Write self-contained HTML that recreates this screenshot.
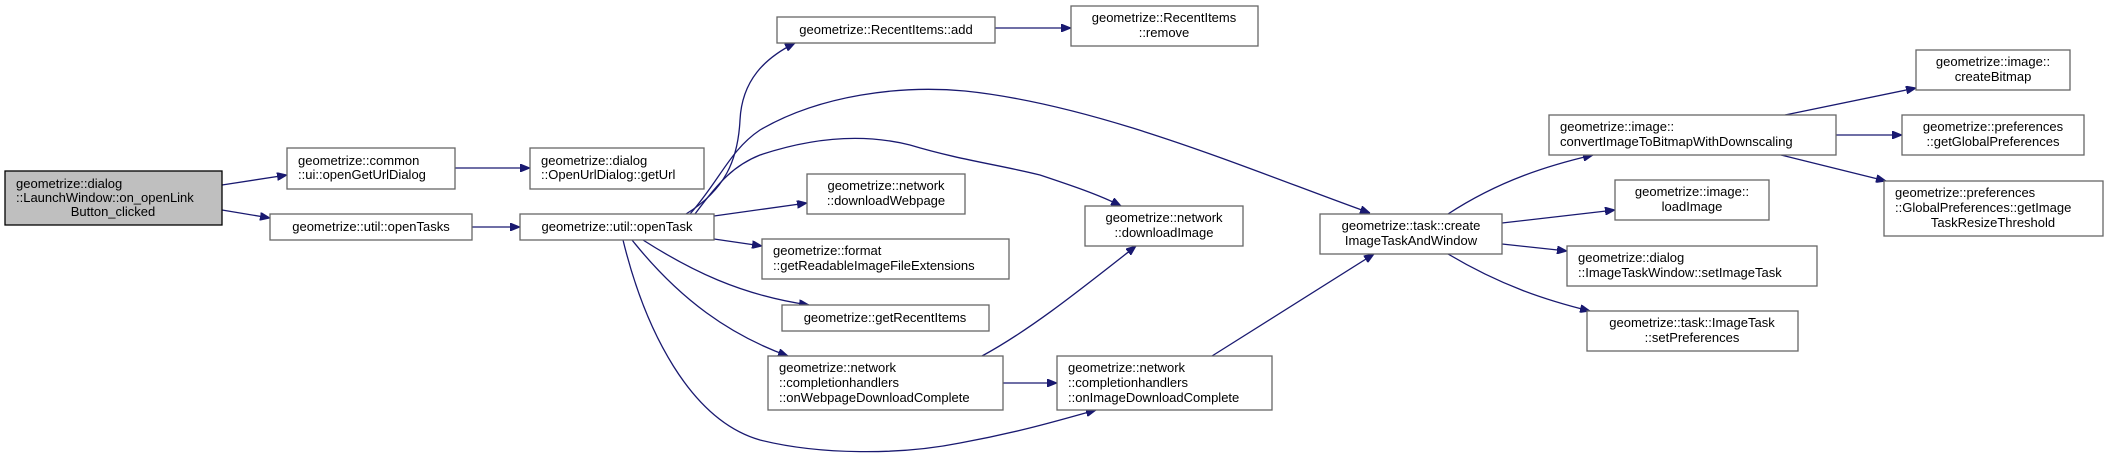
<!DOCTYPE html>
<html><head><meta charset="utf-8"><style>
html,body{margin:0;padding:0;background:#fff}
svg{display:block}
text{font-family:"Liberation Sans","DejaVu Sans",sans-serif;font-size:13px;fill:#000}
.b{fill:#fff;stroke:#666;stroke-width:1.3}
.e{fill:none;stroke:#191970;stroke-width:1.3}
</style></head><body>
<svg width="2108" height="457" viewBox="0 0 2108 457" xmlns="http://www.w3.org/2000/svg">
<defs><marker id="a" markerWidth="10" markerHeight="8" refX="10" refY="4" orient="auto" markerUnits="userSpaceOnUse"><path d="M0,0L10,4L0,8z" fill="#191970" stroke="#191970"/></marker></defs>
<g class="e" marker-end="url(#a)">
<path d="M222,185L287,175"/>
<path d="M222,210L270,218"/>
<path d="M455,168L530,168"/>
<path d="M472,227L520,227"/>
<path d="M686,214C725,190 738,160 740,120C742,80 765,58 795,43"/>
<path d="M690,214C720,180 730,150 760,130C820,95 900,85 965,91C1100,105 1250,170 1370,213"/>
<path d="M695,214C720,180 735,165 760,155C820,135 870,135 910,145C960,160 1000,165 1040,175C1070,185 1100,195 1121,206"/>
<path d="M714,216L807,203"/>
<path d="M714,239L762,246"/>
<path d="M643,240C690,270 740,295 809,305"/>
<path d="M632,240C680,300 730,335 788,356"/>
<path d="M623,240C645,330 690,420 760,440C820,455 900,455 960,443C1020,432 1060,420 1096,410"/>
<path d="M982,356C1030,330 1080,290 1136,246"/>
<path d="M1003,383L1057,383"/>
<path d="M1212,356L1374,254"/>
<path d="M1448,214C1500,180 1550,165 1593,155"/>
<path d="M1502,223L1615,210"/>
<path d="M1502,244L1567,251"/>
<path d="M1448,254C1500,285 1545,300 1590,311"/>
<path d="M995,28L1071,28"/>
<path d="M1785,115L1916,88"/>
<path d="M1836,135L1902,135"/>
<path d="M1781,155L1886,181"/>
</g>
<rect x="5" y="171" width="217" height="54" fill="#bfbfbf" stroke="#000" stroke-width="1.3"/>
<text x="16" y="188">geometrize::dialog</text><text x="16" y="202">::LaunchWindow::on_openLink</text><text x="113" y="216" text-anchor="middle">Button_clicked</text>
<rect class="b" x="287" y="148" width="168" height="41"/>
<text x="298" y="165">geometrize::common</text><text x="298" y="179">::ui::openGetUrlDialog</text>
<rect class="b" x="530" y="148" width="174" height="41"/>
<text x="541" y="165">geometrize::dialog</text><text x="541" y="179">::OpenUrlDialog::getUrl</text>
<rect class="b" x="270" y="214" width="202" height="26"/>
<text x="371" y="231" text-anchor="middle">geometrize::util::openTasks</text>
<rect class="b" x="520" y="214" width="194" height="26"/>
<text x="617" y="231" text-anchor="middle">geometrize::util::openTask</text>
<rect class="b" x="777" y="17" width="218" height="26"/>
<text x="886" y="34" text-anchor="middle">geometrize::RecentItems::add</text>
<rect class="b" x="1071" y="6" width="187" height="40"/>
<text x="1164" y="22" text-anchor="middle">geometrize::RecentItems</text><text x="1164" y="37" text-anchor="middle">::remove</text>
<rect class="b" x="807" y="174" width="158" height="40"/>
<text x="886" y="190" text-anchor="middle">geometrize::network</text><text x="886" y="205" text-anchor="middle">::downloadWebpage</text>
<rect class="b" x="762" y="239" width="247" height="40"/>
<text x="773" y="255">geometrize::format</text><text x="773" y="270">::getReadableImageFileExtensions</text>
<rect class="b" x="782" y="305" width="207" height="26"/>
<text x="885" y="322" text-anchor="middle">geometrize::getRecentItems</text>
<rect class="b" x="768" y="356" width="235" height="54"/>
<text x="779" y="372">geometrize::network</text><text x="779" y="387">::completionhandlers</text><text x="779" y="402">::onWebpageDownloadComplete</text>
<rect class="b" x="1085" y="206" width="158" height="40"/>
<text x="1164" y="222" text-anchor="middle">geometrize::network</text><text x="1164" y="237" text-anchor="middle">::downloadImage</text>
<rect class="b" x="1057" y="356" width="215" height="54"/>
<text x="1068" y="372">geometrize::network</text><text x="1068" y="387">::completionhandlers</text><text x="1068" y="402">::onImageDownloadComplete</text>
<rect class="b" x="1320" y="214" width="182" height="40"/>
<text x="1411" y="230" text-anchor="middle">geometrize::task::create</text><text x="1411" y="245" text-anchor="middle">ImageTaskAndWindow</text>
<rect class="b" x="1549" y="115" width="287" height="40"/>
<text x="1560" y="131">geometrize::image::</text><text x="1560" y="146">convertImageToBitmapWithDownscaling</text>
<rect class="b" x="1615" y="180" width="154" height="40"/>
<text x="1692" y="196" text-anchor="middle">geometrize::image::</text><text x="1692" y="211" text-anchor="middle">loadImage</text>
<rect class="b" x="1567" y="246" width="250" height="40"/>
<text x="1578" y="262">geometrize::dialog</text><text x="1578" y="277">::ImageTaskWindow::setImageTask</text>
<rect class="b" x="1587" y="311" width="211" height="40"/>
<text x="1692" y="327" text-anchor="middle">geometrize::task::ImageTask</text><text x="1692" y="342" text-anchor="middle">::setPreferences</text>
<rect class="b" x="1916" y="50" width="154" height="40"/>
<text x="1993" y="66" text-anchor="middle">geometrize::image::</text><text x="1993" y="81" text-anchor="middle">createBitmap</text>
<rect class="b" x="1902" y="115" width="182" height="40"/>
<text x="1993" y="131" text-anchor="middle">geometrize::preferences</text><text x="1993" y="146" text-anchor="middle">::getGlobalPreferences</text>
<rect class="b" x="1884" y="181" width="219" height="55"/>
<text x="1895" y="197">geometrize::preferences</text><text x="1895" y="212">::GlobalPreferences::getImage</text><text x="1993" y="227" text-anchor="middle">TaskResizeThreshold</text>
</svg>
</body></html>
